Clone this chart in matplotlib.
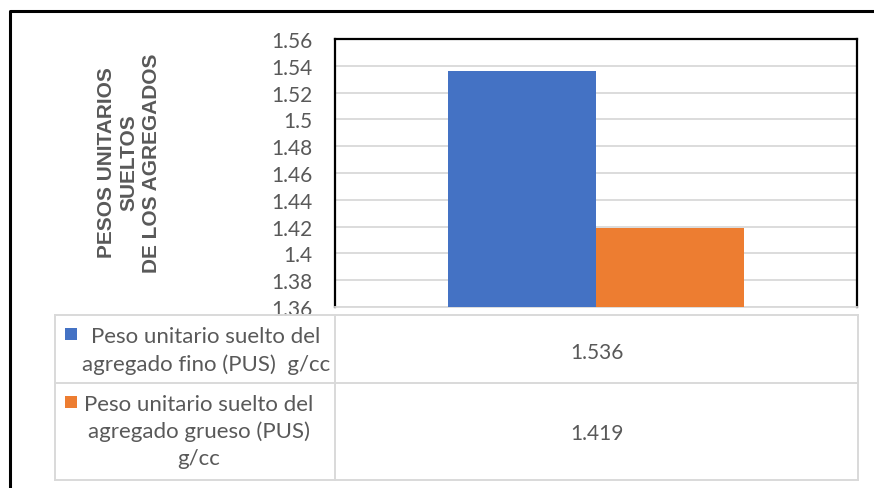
import matplotlib
matplotlib.use("Agg")
import matplotlib.pyplot as plt
from matplotlib.patches import Rectangle
from matplotlib.lines import Line2D
import numpy as np

plt.rcParams['font.family'] = ['Lato', 'DejaVu Sans']

# ---- data ----
series_labels = [
    "Peso unitario suelto del\nagregado fino (PUS)  g/cc",
    "Peso unitario suelto del\nagregado grueso (PUS)\ng/cc",
]
series_values = [1.536, 1.419]
series_colors = ["#4472C4", "#ED7D31"]
y_ticks = [1.36, 1.38, 1.40, 1.42, 1.44, 1.46, 1.48, 1.50, 1.52, 1.54, 1.56]
y_title = "PESOS UNITARIOS\nSUELTOS\nDE LOS AGREGADOS"

W, H = 874, 489
DPI = 100
TXT = "#595959"
GRID = "#d9d9d9"

fig = plt.figure(figsize=(W / DPI, H / DPI), dpi=DPI)
fig.patch.set_facecolor("white")

def fx(px):
    return px / W

def fy(py):
    return 1 - py / H

# ---- bar plot area ----
left, right, top, bottom = 335, 857, 40, 308
ax = fig.add_axes([fx(left), fy(bottom), fx(right - left), (bottom - top) / H])
bar_w = 0.2835
offsets = [-bar_w / 2, bar_w / 2]
for off, val, col in zip(offsets, series_values, series_colors):
    ax.bar(off, val, width=bar_w, color=col, zorder=3)
ax.set_xlim(-0.5, 0.5)
ax.set_ylim(y_ticks[0], y_ticks[-1])
ax.set_yticks(y_ticks)
ax.set_yticklabels([f"{round(t, 2):g}" for t in y_ticks], fontsize=15, color=TXT)
ax.tick_params(axis="y", length=0, pad=16)
ax.set_xticks([])
ax.yaxis.grid(True, color=GRID, linewidth=1.3, zorder=0)
for side in ("top", "left", "right"):
    ax.spines[side].set_color("black")
    ax.spines[side].set_linewidth(1.6)
ax.spines["bottom"].set_color(GRID)
ax.spines["bottom"].set_linewidth(1.3)

# ---- overlay in pixel coordinates for table, title and frame ----
ov = fig.add_axes([0, 0, 1, 1], zorder=5)
ov.set_xlim(0, W)
ov.set_ylim(H, 0)
ov.axis("off")
ov.patch.set_alpha(0)

# outer frame (open on the right and bottom edges)
ov.add_line(Line2D([10, 10, W + 5], [H + 5, 12, 12], color="black", linewidth=2.2))

# rotated axis title
ov.text(129, 163, y_title, rotation=90, ha="center", va="center",
        multialignment="center", fontsize=15, fontweight="bold",
        color=TXT, family=["Liberation Sans", "DejaVu Sans"], linespacing=1.25)

# data table grid
t_left, t_mid, t_right = 55, 335, 858
t_top, t_row, t_bot = 316, 384, 481
lw_t = 1.4
for yv in (t_top, t_row, t_bot):
    ov.add_line(Line2D([t_left, t_right], [yv, yv], color=GRID, linewidth=lw_t))
for xv in (t_left, t_mid, t_right):
    ov.add_line(Line2D([xv, xv], [t_top, t_bot], color=GRID, linewidth=lw_t))

# table rows: legend key, series name and value
row_centers = [351, 432]
text_cx = [206, 199]
key_y = [329, 397]
for i, (lab, val, col) in enumerate(zip(series_labels, series_values, series_colors)):
    ov.add_patch(Rectangle((65, key_y[i]), 12, 12, facecolor=col, edgecolor="none"))
    ov.text(text_cx[i], row_centers[i], lab, ha="center", va="center",
            multialignment="center", fontsize=16, color=TXT, linespacing=1.4)
    ov.text((t_mid + t_right) / 2, row_centers[i] + 2, f"{val:.3f}", ha="center",
            va="center", fontsize=15, color=TXT)

fig.savefig("out.png", dpi=DPI)
